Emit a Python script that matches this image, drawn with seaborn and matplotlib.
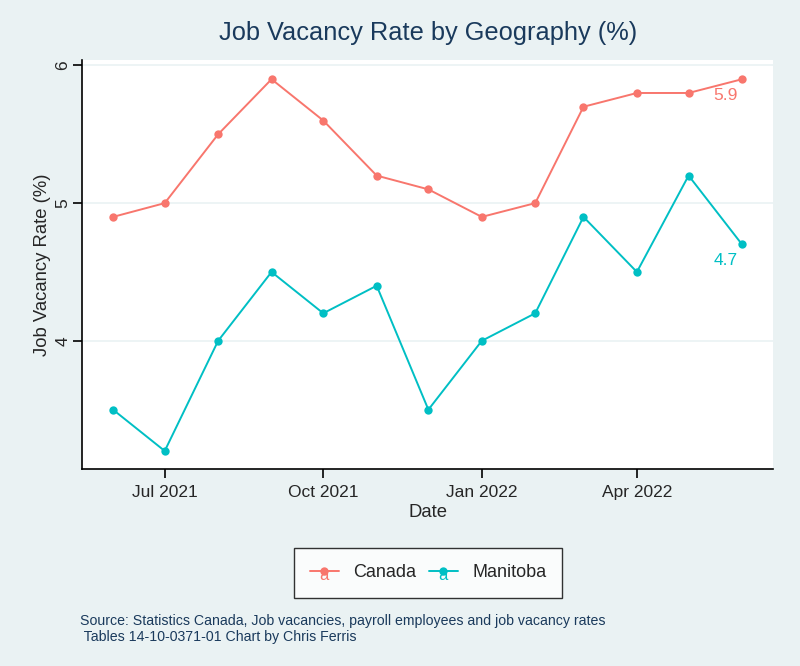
import matplotlib
matplotlib.use("Agg")
import matplotlib.pyplot as plt
import seaborn as sns
import pandas as pd
from matplotlib.lines import Line2D
from matplotlib.legend_handler import HandlerLine2D
from matplotlib.text import Text
from matplotlib.font_manager import FontProperties

months = ["2021-06", "2021-07", "2021-08", "2021-09", "2021-10", "2021-11", "2021-12",
          "2022-01", "2022-02", "2022-03", "2022-04", "2022-05", "2022-06"]
canada = [4.9, 5.0, 5.5, 5.9, 5.6, 5.2, 5.1, 4.9, 5.0, 5.7, 5.8, 5.8, 5.9]
manitoba = [3.5, 3.2, 4.0, 4.5, 4.2, 4.4, 3.5, 4.0, 4.2, 4.9, 4.5, 5.2, 4.7]
geos = ["Canada", "Manitoba"]
colors = ["#F8766D", "#00BFC4"]
xtick_months = ["2021-07", "2021-10", "2022-01", "2022-04"]
xtick_labels = ["Jul 2021", "Oct 2021", "Jan 2022", "Apr 2022"]
yticks = [4, 5, 6]

df = pd.DataFrame({
    "Date": pd.to_datetime(months * 2),
    "Rate": canada + manitoba,
    "Geo": [geos[0]] * len(months) + [geos[1]] * len(months),
})

sns.set_style("white")
plt.rcParams["font.family"] = ["Liberation Sans", "DejaVu Sans"]

bg = "#EAF2F3"
navy = "#1a3a5c"
fig = plt.figure(figsize=(8, 6.66), dpi=100, facecolor=bg)
ax = fig.add_axes([0.1025, 0.296, 0.8638, 0.614])
ax.set_facecolor("white")

sns.lineplot(data=df, x="Date", y="Rate", hue="Geo", palette=dict(zip(geos, colors)),
             marker="o", markersize=6, markeredgewidth=0, linewidth=1.4, ax=ax,
             legend=False)

ax.set_xlim(pd.Timestamp("2021-05-14"), pd.Timestamp("2022-06-19"))
ax.set_ylim(3.07, 6.04)
ax.set_yticks(yticks)
ax.set_yticklabels([str(v) for v in yticks], rotation=90, va="center", fontsize=12.5)
ax.set_xticks(pd.to_datetime(xtick_months))
ax.set_xticklabels(xtick_labels, fontsize=12.5)
ax.grid(axis="y", color=bg, linewidth=1.2)
ax.grid(axis="x", visible=False)
for s in ["top", "right"]:
    ax.spines[s].set_visible(False)
for s in ["left", "bottom"]:
    ax.spines[s].set_color("black")
    ax.spines[s].set_linewidth(1.2)
ax.tick_params(axis="both", direction="out", length=6.5, width=1.2, color="black",
               left=True, bottom=True)
ax.tick_params(axis="x", pad=5)
ax.tick_params(axis="y", pad=2)
ax.set_xlabel("Date", fontsize=13.3, labelpad=3)
ax.set_ylabel("Job Vacancy Rate (%)", fontsize=13.3, labelpad=3)

# end labels
last = pd.Timestamp(months[-1])
for vals, c in zip([canada, manitoba], colors):
    ax.annotate(f"{vals[-1]:.1f}", xy=(last, vals[-1]), xytext=(-3, -6),
                textcoords="offset points", ha="right", va="top", color=c, fontsize=12.5)

fig.suptitle("Job Vacancy Rate by Geography (%)", x=0.535, y=0.968, fontsize=18.3,
             color=navy)


class HandlerWithLetter(HandlerLine2D):
    def create_artists(self, legend, orig_handle, xdescent, ydescent, width, height,
                       fontsize, trans):
        arts = super().create_artists(legend, orig_handle, xdescent, ydescent, width,
                                      height, fontsize, trans)
        t = Text(width / 2 - xdescent, height / 2 - ydescent - 3, "a",
                 color=orig_handle.get_color(), ha="center", va="center",
                 transform=trans,
                 fontproperties=FontProperties(family="Liberation Sans", size=12))
        return [t] + arts


handles = [Line2D([0], [0], color=c, marker="o", markersize=6, linewidth=1.4,
                  markeredgewidth=0) for c in colors]
leg = fig.legend(handles, geos, loc="center", bbox_to_anchor=(0.535, 0.14), ncol=2,
                 frameon=True, fancybox=False, fontsize=13, handlelength=1.6,
                 borderpad=0.9, columnspacing=0.7, handletextpad=0.8,
                 borderaxespad=0, handler_map={Line2D: HandlerWithLetter()})
leg.get_frame().set_edgecolor("black")
leg.get_frame().set_linewidth(1.0)
leg.get_frame().set_facecolor("white")

fig.text(0.1, 0.056, "Source: Statistics Canada, Job vacancies, payroll employees and job vacancy rates\n Tables 14-10-0371-01 Chart by Chris Ferris",
         fontsize=10.2, color=navy, va="center", ha="left", linespacing=1.2)

fig.savefig("out.png", dpi=100, facecolor=bg)
